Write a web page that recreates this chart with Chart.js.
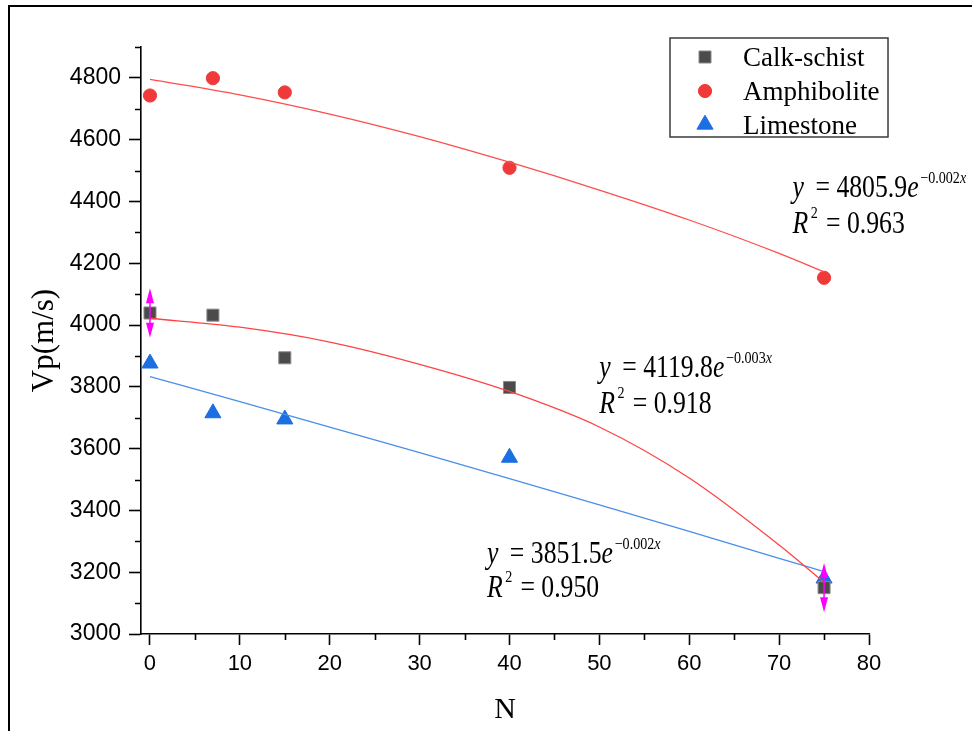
<!DOCTYPE html>
<html>
<head>
<meta charset="utf-8">
<script src="https://cdn.jsdelivr.net/npm/chart.js@4.4.1/dist/chart.umd.min.js"></script>
<style>
  html, body { margin: 0; padding: 0; background: #fff; }
  #wrap { position: relative; width: 972px; height: 731px; overflow: hidden; }
  #frame { position: absolute; left: 8px; top: 5px; width: 1000px; height: 800px;
           border-left: 2px solid #000; border-top: 2px solid #000; pointer-events: none; }
  canvas { display: block; }
</style>
</head>
<body>
<div id="wrap">
  <canvas id="chart" width="972" height="731"></canvas>
  <div id="frame"></div>
</div>
<script>
// measured points
const nValues = [0, 7, 15, 40, 75];
const calkSchist = [4039, 4032, 3894, 3798, 3150];
const amphibolite = [4743, 4799, 4753, 4509, 4153];
const limestone = [3876, 3715, 3695, 3571, 3180];
const calkError = [80, 0, 0, 0, 80];

// fitted curves
const fitN = [0, 10, 20, 30, 40, 50, 60, 70, 75];
const amphFit = [4795, 4745, 4683, 4610, 4527, 4437, 4340, 4232, 4172];
const calkFit = [4022, 3993, 3945, 3873, 3785, 3670, 3505, 3288, 3167];
const limeFit = [3833, 3752, 3670, 3587, 3503, 3418, 3332, 3245, 3202];

const xTicks = [0, 10, 20, 30, 40, 50, 60, 70, 80];
const yTicks = [3000, 3200, 3400, 3600, 3800, 4000, 4200, 4400, 4600, 4800];
const xMinor = [5, 15, 25, 35, 45, 55, 65, 75];
const yMinor = [3100, 3300, 3500, 3700, 3900, 4100, 4300, 4500, 4700, 4900];

// equations: amphibolite, calk-schist, limestone
const eqCoef = ['4805.9', '4119.8', '3851.5'];
const eqExp = ['\u22120.002', '\u22120.003', '\u22120.002'];
const eqR2 = ['0.963', '0.918', '0.950'];
const eqN = [71.5, 50.0, 37.5];
const eqV = [4415, 3833, 3229];
const r2V = [4297, 3714, 3121];

const serif = '"Liberation Serif", "Times New Roman", serif';
const sans = '"Liberation Sans", Arial, sans-serif';

function pts(xs, ys) {
  return xs.map((v, i) => ({ x: v, y: ys[i] }));
}

const markerSets = [
  { label: 'Calk-schist', data: pts(nValues, calkSchist), pointStyle: 'rect', pointRadius: 8.5,
    backgroundColor: '#4b4b4b', borderColor: '#8a8a8a', borderWidth: 1, order: 2 },
  { label: 'Amphibolite', data: pts(nValues, amphibolite), pointStyle: 'circle', pointRadius: 6.6,
    backgroundColor: '#f03a3a', borderColor: '#f03a3a', borderWidth: 1, order: 2 },
  { label: 'Limestone', data: pts(nValues, limestone), pointStyle: 'triangle', pointRadius: 9.3,
    backgroundColor: '#1b6fe0', borderColor: '#1b6fe0', borderWidth: 1, order: 2 }
];

function fitSet(ys, color) {
  return { label: 'fit', data: pts(fitN, ys), showLine: true, pointRadius: 0,
    borderColor: color, borderWidth: 1.3, tension: 0.4, cubicInterpolationMode: 'monotone',
    fill: false, order: 1 };
}

function drawEq(ctx, x0, y0, parts, sx) {
  ctx.save();
  ctx.translate(x0, y0);
  ctx.scale(sx, 1);
  let cx = 0;
  parts.forEach(p => {
    ctx.font = p.f;
    cx += p.dx || 0;
    ctx.fillText(p.t, cx, p.dy || 0);
    cx += ctx.measureText(p.t).width;
  });
  ctx.restore();
}

const extras = {
  id: 'extras',
  afterDatasetsDraw(chart) {
    const { ctx, scales: { x, y } } = chart;
    // magenta error bars with arrow heads
    ctx.save();
    ctx.strokeStyle = '#ff00ff';
    ctx.fillStyle = '#ff00ff';
    ctx.lineWidth = 1.5;
    nValues.forEach((n, i) => {
      const e = calkError[i];
      if (!e) return;
      const px = x.getPixelForValue(n);
      const top = y.getPixelForValue(calkSchist[i] + e);
      const bot = y.getPixelForValue(calkSchist[i] - e);
      ctx.beginPath();
      ctx.moveTo(px, top + 4);
      ctx.lineTo(px, bot - 4);
      ctx.stroke();
      [[top, 1], [bot, -1]].forEach(([ty, d]) => {
        ctx.beginPath();
        ctx.moveTo(px, ty);
        ctx.lineTo(px - 4, ty + d * 15);
        ctx.lineTo(px + 4, ty + d * 15);
        ctx.closePath();
        ctx.fill();
      });
    });
    ctx.restore();
  },
  afterDraw(chart) {
    const { ctx, chartArea: area, scales: { x, y } } = chart;
    ctx.save();

    // minor ticks
    ctx.strokeStyle = '#000';
    ctx.lineWidth = 1.6;
    ctx.beginPath();
    xMinor.forEach(v => {
      const px = Math.round(x.getPixelForValue(v)) + 0.5;
      ctx.moveTo(px, area.bottom);
      ctx.lineTo(px, area.bottom + 6);
    });
    yMinor.forEach(v => {
      const py = Math.round(y.getPixelForValue(v)) + 0.5;
      ctx.moveTo(area.left - 6, py);
      ctx.lineTo(area.left, py);
    });
    ctx.stroke();

    // legend box
    const lx = area.right - 199, ly = 38, lw = 218, lh = 99;
    ctx.strokeStyle = '#3a3a3a';
    ctx.lineWidth = 1.5;
    ctx.strokeRect(lx, ly, lw, lh);
    const rows = [57, 91, 124.5];
    markerSets.forEach((ds, i) => {
      ctx.fillStyle = ds.backgroundColor;
      ctx.strokeStyle = ds.borderColor;
      ctx.lineWidth = ds.borderWidth;
      Chart.helpers.drawPoint(ctx, { pointStyle: ds.pointStyle, radius: ds.pointRadius, rotation: 0,
        borderWidth: ds.borderWidth }, lx + 35, rows[i]);
      ctx.fillStyle = '#000';
      ctx.font = '27px ' + serif;
      ctx.textBaseline = 'alphabetic';
      ctx.textAlign = 'left';
      ctx.fillText(ds.label, lx + 73, rows[i] + 9);
    });

    // fit equations
    ctx.fillStyle = '#000';
    ctx.textAlign = 'left';
    ctx.textBaseline = 'alphabetic';
    const main = '31px ' + serif, ital = 'italic 31px ' + serif;
    const sup = '17px ' + serif, supI = 'italic 17px ' + serif;
    eqCoef.forEach((c, i) => {
      const px = x.getPixelForValue(eqN[i]);
      drawEq(ctx, px, y.getPixelForValue(eqV[i]), [
        { t: 'y', f: ital },
        { t: ' = ', f: main, dx: 6 },
        { t: c, f: main },
        { t: 'e', f: ital },
        { t: eqExp[i], f: sup, dx: 2, dy: -14 },
        { t: 'x', f: supI, dy: -14 }
      ], 0.83);
      drawEq(ctx, px, y.getPixelForValue(r2V[i]), [
        { t: 'R', f: ital },
        { t: '2', f: sup, dx: 3, dy: -15 },
        { t: ' = ', f: main, dx: 2 },
        { t: eqR2[i], f: main }
      ], 0.83);
    });
    ctx.restore();
  }
};

new Chart(document.getElementById('chart'), {
  type: 'scatter',
  data: {
    datasets: [
      ...markerSets,
      fitSet(amphFit, '#ff4d4d'),
      fitSet(calkFit, '#ff4343'),
      fitSet(limeFit, '#4a8fe8')
    ]
  },
  options: {
    responsive: false,
    animation: false,
    layout: { padding: { left: 0, top: 47, right: 103, bottom: 0 } },
    plugins: { legend: { display: false }, tooltip: { enabled: false } },
    scales: {
      x: {
        type: 'linear', min: -1, max: 80,
        afterBuildTicks: s => { s.ticks = xTicks.map(v => ({ value: v })); },
        afterFit: s => { s.height = 97; },
        grid: { display: true, drawOnChartArea: false, drawTicks: true, tickLength: 11,
          tickWidth: 1.6, tickColor: '#000' },
        border: { display: true, color: '#000', width: 1.6 },
        ticks: { color: '#000', font: { family: sans, size: 22 }, padding: 6,
          maxRotation: 0, autoSkip: false, callback: v => String(v) },
        title: { display: true, text: 'N', color: '#000',
          font: { family: serif, size: 30 }, padding: { top: 0, bottom: 3 } }
      },
      y: {
        type: 'linear', min: 3000, max: 4900,
        afterBuildTicks: s => { s.ticks = yTicks.map(v => ({ value: v })); },
        afterFit: s => { s.width = 141; },
        grid: { display: true, drawOnChartArea: false, drawTicks: true, tickLength: 12,
          tickWidth: 1.6, tickColor: '#000' },
        border: { display: true, color: '#000', width: 1.6 },
        ticks: { color: '#000', font: { family: sans, size: 23 }, padding: 8, autoSkip: false,
          callback: v => String(v) },
        title: { display: true, text: 'Vp(m/s)', color: '#000',
          font: { family: serif, size: 31 }, padding: { top: 26, bottom: 0 } }
      }
    }
  },
  plugins: [extras]
});
</script>
</body>
</html>
